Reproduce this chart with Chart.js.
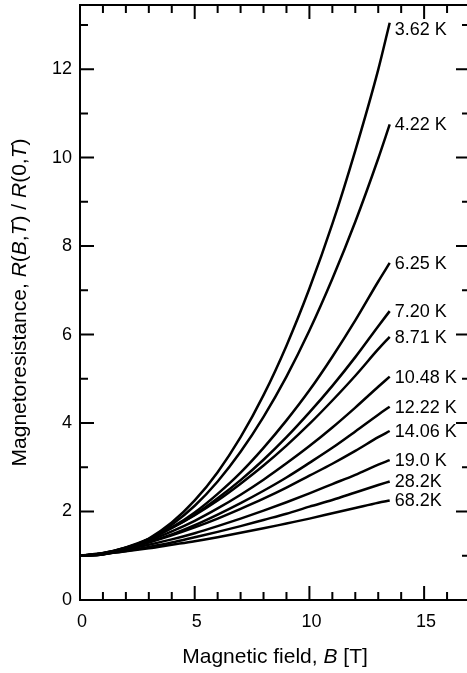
<!DOCTYPE html>
<html>
<head>
<meta charset="utf-8">
<script src="https://cdn.jsdelivr.net/npm/chart.js@4.4.1/dist/chart.umd.min.js"></script>
<style>
  html, body { margin: 0; padding: 0; background: #fff; overflow: hidden; }
  canvas { display: block; }
</style>
</head>
<body>
<canvas id="chart" width="470" height="673"></canvas>
<script>
// Magnetic field B [T] where each curve is sampled
const fieldB = [0, 1, 2, 3, 4, 5, 6, 7, 8, 9, 10, 11, 12, 13, 13.5];

// Curve labels (temperature)
const tempLabels = ['3.62 K', '4.22 K', '6.25 K', '7.20 K', '8.71 K', '10.48 K',
                    '12.22 K', '14.06 K', '19.0 K', '28.2K', '68.2K'];

// R(B,T)/R(0,T)
const r362  = [1, 1.03, 1.15, 1.39, 1.75, 2.25, 2.89, 3.68, 4.63, 5.75, 7.04, 8.50, 10.16, 11.99, 13.05];
const r422  = [1, 1.03, 1.16, 1.37, 1.70, 2.13, 2.68, 3.35, 4.14, 5.05, 6.09, 7.26, 8.55, 9.98, 10.75];
const r625  = [1, 1.04, 1.17, 1.37, 1.64, 1.98, 2.40, 2.88, 3.44, 4.06, 4.74, 5.50, 6.32, 7.20, 7.62];
const r720  = [1, 1.05, 1.18, 1.37, 1.63, 1.93, 2.30, 2.71, 3.17, 3.68, 4.24, 4.84, 5.49, 6.19, 6.53];
const r871  = [1, 1.06, 1.19, 1.38, 1.63, 1.92, 2.25, 2.63, 3.04, 3.49, 3.98, 4.51, 5.07, 5.67, 5.95];
const r1048 = [1, 1.06, 1.18, 1.34, 1.55, 1.79, 2.07, 2.38, 2.72, 3.09, 3.48, 3.90, 4.35, 4.82, 5.05];
const r1222 = [1, 1.05, 1.16, 1.31, 1.48, 1.69, 1.93, 2.19, 2.47, 2.77, 3.10, 3.44, 3.81, 4.19, 4.37];
const r1406 = [1, 1.06, 1.16, 1.30, 1.46, 1.64, 1.84, 2.06, 2.29, 2.54, 2.81, 3.08, 3.37, 3.68, 3.82];
const r190  = [1, 1.05, 1.14, 1.25, 1.37, 1.51, 1.67, 1.84, 2.02, 2.21, 2.41, 2.62, 2.83, 3.06, 3.16];
const r282  = [1, 1.04, 1.11, 1.20, 1.30, 1.42, 1.54, 1.67, 1.81, 1.95, 2.11, 2.26, 2.43, 2.60, 2.68];
const r682  = [1, 1.04, 1.10, 1.17, 1.25, 1.33, 1.42, 1.52, 1.62, 1.73, 1.84, 1.96, 2.08, 2.20, 2.25];

const curves = [r362, r422, r625, r720, r871, r1048, r1222, r1406, r190, r282, r682];

// Axis ticks
const xTickLabels = [0, 5, 10, 15];
const yTickLabels = [0, 2, 4, 6, 8, 10, 12];

const FONT = "'Liberation Sans', Arial, Helvetica, sans-serif";

function drawMixed(ctx, parts, size) {
    // parts: [text, italic]
    let total = 0;
    const widths = parts.map(([t, it]) => {
        ctx.font = (it ? 'italic ' : '') + size + 'px ' + FONT;
        const w = ctx.measureText(t).width;
        total += w;
        return w;
    });
    let x = -total / 2;
    parts.forEach(([t, it], i) => {
        ctx.font = (it ? 'italic ' : '') + size + 'px ' + FONT;
        ctx.fillText(t, x, 0);
        x += widths[i];
    });
}

const framePlugin = {
    id: 'frame',
    afterDatasetsDraw(chart) {
        const { ctx, chartArea: a, scales: { x, y } } = chart;
        ctx.save();
        ctx.strokeStyle = '#000';
        ctx.fillStyle = '#000';
        ctx.lineWidth = 2;
        ctx.lineCap = 'butt';

        // frame
        ctx.beginPath();
        ctx.moveTo(a.left, a.top);
        ctx.lineTo(a.right, a.top);
        ctx.lineTo(a.right, a.bottom);
        ctx.lineTo(a.left, a.bottom);
        ctx.closePath();
        ctx.stroke();

        // x ticks (bottom + top, pointing inward)
        for (let v = 1; v < x.max; v++) {
            const px = x.getPixelForValue(v);
            const len = v % 5 === 0 ? 14 : 8;
            ctx.beginPath();
            ctx.moveTo(px, a.bottom); ctx.lineTo(px, a.bottom - len);
            ctx.moveTo(px, a.top); ctx.lineTo(px, a.top + len);
            ctx.stroke();
        }
        // y ticks (left + right, pointing inward)
        for (let v = 1; v < y.max; v++) {
            const py = y.getPixelForValue(v);
            const len = v % 2 === 0 ? 14 : 8;
            ctx.beginPath();
            ctx.moveTo(a.left, py); ctx.lineTo(a.left + len, py);
            ctx.moveTo(a.right, py); ctx.lineTo(a.right - len, py);
            ctx.stroke();
        }

        // tick labels
        ctx.font = '18px ' + FONT;
        ctx.textAlign = 'center';
        ctx.textBaseline = 'middle';
        xTickLabels.forEach(v => ctx.fillText(String(v), x.getPixelForValue(v) + 2, a.bottom + 22));
        ctx.textAlign = 'right';
        yTickLabels.forEach(v => ctx.fillText(String(v), a.left - 8, y.getPixelForValue(v)));

        // curve labels
        ctx.font = '18px ' + FONT;
        ctx.textAlign = 'left';
        chart.data.datasets.forEach((ds, i) => {
            const last = ds.data[ds.data.length - 1];
            const px = x.getPixelForValue(last.x);
            const py = y.getPixelForValue(last.y);
            ctx.fillText(tempLabels[i], px + 5, py + (i === 0 ? 7 : 1));
        });

        // axis titles
        ctx.textAlign = 'left';
        ctx.save();
        ctx.translate((a.left + 470) / 2, 657);
        drawMixed(ctx, [['Magnetic field, ', false], ['B', true], [' [T]', false]], 21);
        ctx.restore();

        ctx.save();
        ctx.translate(20, (a.top + a.bottom) / 2);
        ctx.rotate(-Math.PI / 2);
        drawMixed(ctx, [['Magnetoresistance, ', false], ['R', true], ['(', false], ['B', true], [',', false],
                        ['T', true], [') / ', false], ['R', true], ['(0,', false], ['T', true], [')', false]], 21);
        ctx.restore();

        ctx.restore();
    }
};

new Chart(document.getElementById('chart').getContext('2d'), {
    type: 'line',
    data: {
        datasets: curves.map((c, i) => ({
            label: tempLabels[i],
            data: c.map((r, j) => ({ x: fieldB[j], y: r })),
            borderColor: '#000',
            borderWidth: 2.5,
            pointRadius: 0,
            fill: false,
            cubicInterpolationMode: 'monotone'
        }))
    },
    options: {
        responsive: false,
        animation: false,
        layout: { padding: { left: 80, top: 5, right: 0, bottom: 73 } },
        plugins: { legend: { display: false }, tooltip: { enabled: false } },
        scales: {
            x: { type: 'linear', min: 0, max: 17, display: false },
            y: { type: 'linear', min: 0, max: 13.45, display: false }
        }
    },
    plugins: [framePlugin]
});
</script>
</body>
</html>
